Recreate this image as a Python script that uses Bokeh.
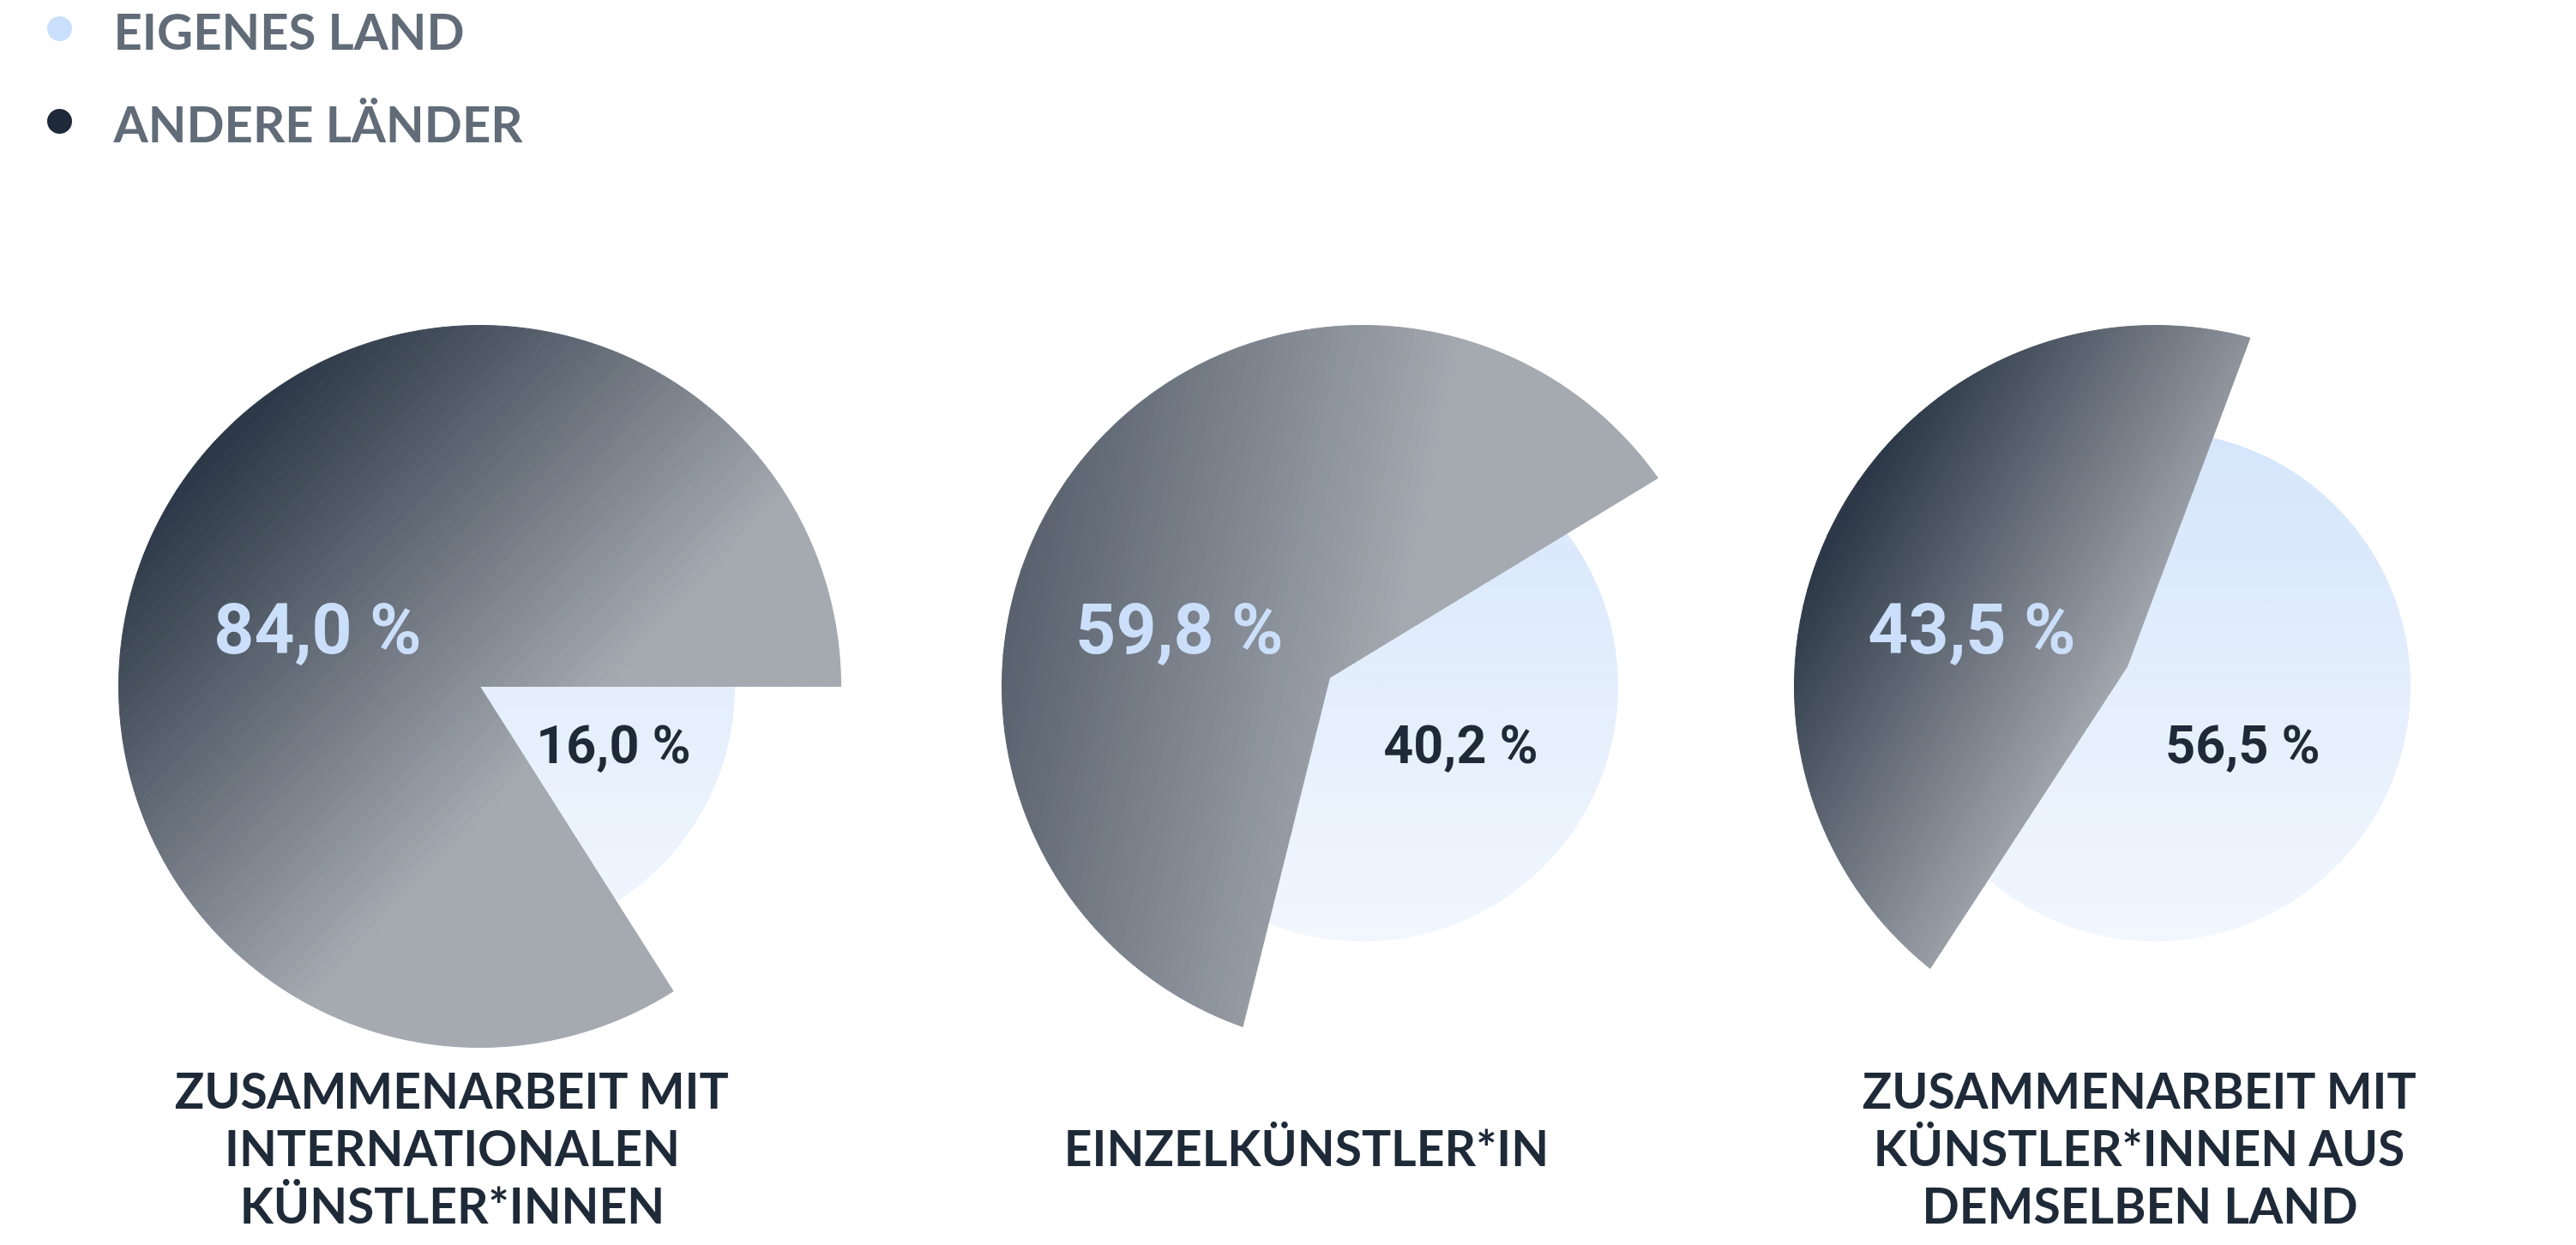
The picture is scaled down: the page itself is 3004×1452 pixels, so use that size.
import numpy as np
from bokeh.plotting import figure
from bokeh.models import Range1d, ColumnDataSource
from bokeh.core.properties import value
from bokeh.embed import file_html
from bokeh.resources import INLINE

# ---------------- data ----------------
series_names = ["EIGENES LAND", "ANDERE LÄNDER"]
category_lines = [
    ["ZUSAMMENARBEIT MIT", "INTERNATIONALEN", "KÜNSTLER*INNEN"],
    ["EINZELKÜNSTLER*IN"],
    ["ZUSAMMENARBEIT MIT", "KÜNSTLER*INNEN AUS", "DEMSELBEN LAND"],
]
eigenes_land = [16.0, 40.2, 56.5]
andere_laender = [84.0, 59.8, 43.5]

# ---------------- style / layout ----------------
W, H = 2988, 1448
LIGHT_DOT = "#cadffb"
DARK_DOT = "#1e2a3a"
LEGEND_TXT = "#616c78"
NAVY = "#1f2a38"
DARK_LABEL = "#cbdffa"

pie_cx = [559, 1589, 2513]
pie_cy = 800
R_OUT = 421          # radius of the "andere Länder" slice
R_IN = 297           # radius of the "eigenes Land" slice
dark_start_deg = [0.0, 35.25, 74.8]             # where the dark slice starts (math, CCW)
apex_offset = [(0, 0), (-39, -10), (-33, -23)]  # screen px offset of the dark apex
# linear gradient t = a*u + b*v + c (u, v in radius units, v pointing up)
grad = [(0.586, -0.55, 0.79), (0.58, -0.123, 0.953), (0.953, -0.543, 1.073)]
DARK0 = np.array([44, 56, 71])
DARK1 = np.array([165, 169, 176])
LIGHT0 = np.array([213, 229, 251])
LIGHT1 = np.array([242, 247, 254])
dark_label_off = [(-189, -67), (-214, -67), (-214, -67)]
light_label_off = [(156, 68), (114, 68), (102, 68)]
cat_label_x = [527, 1523, 2495]
cat_line_y = [1270, 1337, 1404]


def hexc(c):
    c = np.clip(np.round(c), 0, 255).astype(int)
    return "#%02x%02x%02x" % tuple(c)


def clip(poly, n, k):
    out = []
    L = len(poly)
    for i in range(L):
        P = poly[i]
        Q = poly[(i + 1) % L]
        fp = n[0] * P[0] + n[1] * P[1] - k
        fq = n[0] * Q[0] + n[1] * Q[1] - k
        if fp >= 0:
            out.append(P)
        if (fp >= 0) != (fq >= 0):
            s = fp / (fp - fq)
            out.append((P[0] + s * (Q[0] - P[0]), P[1] + s * (Q[1] - P[1])))
    return out


def wedge_pieces(cx, cy, ax, ay, rad, a0, a1):
    """convex pieces (<=60 deg each) of a wedge: apex (ax,ay), arc around (cx,cy)."""
    span = a1 - a0
    npieces = int(np.ceil(span / 60.0))
    edges = np.linspace(a0, a1, npieces + 1)
    pieces = []
    for i in range(npieces):
        th = np.radians(np.linspace(edges[i], edges[i + 1], 40))
        pts = [(ax, ay)] + [(cx + rad * np.cos(t), cy - rad * np.sin(t)) for t in th]
        pieces.append(pts)
    return pieces


def banded(pieces, n, k0, c_from, c_to, tmin, tmax, nb):
    xs, ys, cols = [], [], []
    ks = np.linspace(tmin, tmax, nb + 1)
    for poly in pieces:
        for i in range(nb):
            lo, hi = ks[i], ks[i + 1]
            q = clip(poly, n, lo - k0)
            if len(q) < 3:
                continue
            q = clip(q, (-n[0], -n[1]), -(hi - k0))
            if len(q) < 3:
                continue
            tm = np.clip((lo + hi) / 2, 0, 1)
            col = hexc(c_from + (c_to - c_from) * tm)
            xs.append([p[0] for p in q])
            ys.append([p[1] for p in q])
            cols.append(col)
    return xs, ys, cols


p = figure(width=W, height=H, x_range=Range1d(0, W), y_range=Range1d(H, 0),
           output_backend="svg", toolbar_location=None, min_border=0,
           x_axis_location=None, y_axis_location=None)
p.grid.visible = False
p.outline_line_color = None
p.background_fill_color = "white"
p.border_fill_color = "white"

for i in range(3):
    cx = pie_cx[i]
    cy = pie_cy
    ax = cx + apex_offset[i][0]
    ay = cy + apex_offset[i][1]
    d0 = dark_start_deg[i]
    d1 = d0 + 360.0 * andere_laender[i] / 100.0
    l0 = d1
    l1 = l0 + 360.0 * eigenes_land[i] / 100.0
    delta = 12.0

    # light slice (eigenes Land): vertical gradient
    lp = wedge_pieces(cx, cy, ax, ay, R_IN, l0 - delta, l1 + delta)
    n = (0.0, 1.0 / (2 * R_IN))
    k0 = -(cy - R_IN) / (2 * R_IN)
    xs, ys, cols = banded(lp, n, k0, LIGHT0, LIGHT1, -0.05, 1.05, 28)
    p.patches(xs, ys, fill_color=cols, line_color=cols, line_width=1)

    # dark slice (andere Länder): diagonal gradient
    dp = wedge_pieces(cx, cy, ax, ay, R_OUT, d0, d1)
    a, b, c = grad[i]
    # screen y points down: v = (cy - y) / R
    n = (a / R_OUT, -b / R_OUT)
    k0 = c - a * cx / R_OUT + b * cy / R_OUT
    allpts = np.array([pt for poly in dp for pt in poly])
    tv = n[0] * allpts[:, 0] + n[1] * allpts[:, 1] + k0
    xs, ys, cols = banded(dp, n, k0, DARK0, DARK1, tv.min() - 0.01, tv.max() + 0.01, 70)
    p.patches(xs, ys, fill_color=cols, line_color=cols, line_width=1)

# percentage labels
fmt = lambda v: ("%.1f" % v).replace(".", ",") + " %"
src_dark = ColumnDataSource(dict(
    x=[pie_cx[i] + dark_label_off[i][0] for i in range(3)],
    y=[pie_cy + dark_label_off[i][1] for i in range(3)],
    t=[fmt(v) for v in andere_laender]))
p.text(x="x", y="y", text="t", source=src_dark, text_align="center", text_baseline="middle",
       text_font=value("Roboto"), text_font_style="bold", text_font_size="82px", text_color=DARK_LABEL)
src_light = ColumnDataSource(dict(
    x=[pie_cx[i] + light_label_off[i][0] for i in range(3)],
    y=[pie_cy + light_label_off[i][1] for i in range(3)],
    t=[fmt(v) for v in eigenes_land]))
p.text(x="x", y="y", text="t", source=src_light, text_align="center", text_baseline="middle",
       text_font=value("Roboto"), text_font_style="bold", text_font_size="61px", text_color=NAVY)

# category labels
cx_l, cy_l, ct = [], [], []
for i, lines in enumerate(category_lines):
    ys_ = [cat_line_y[1]] if len(lines) == 1 else cat_line_y[:len(lines)]
    for ln, yy in zip(lines, ys_):
        cx_l.append(cat_label_x[i])
        cy_l.append(yy)
        ct.append(ln)
p.text(x=cx_l, y=cy_l, text=ct, text_align="center", text_baseline="middle",
       text_font=value("Lato"), text_font_style="bold", text_font_size="57px", text_color=NAVY)

# legend
p.scatter(x=[69, 69], y=[33, 141], size=29, color=[LIGHT_DOT, DARK_DOT], line_color=None)
p.text(x=[132, 132], y=[35, 143], text=series_names, text_align="left", text_baseline="middle",
       text_font=value("Lato"), text_font_style="bold", text_font_size="58px", text_color=LEGEND_TXT)

open("out.html", "w").write(file_html(p, INLINE))
